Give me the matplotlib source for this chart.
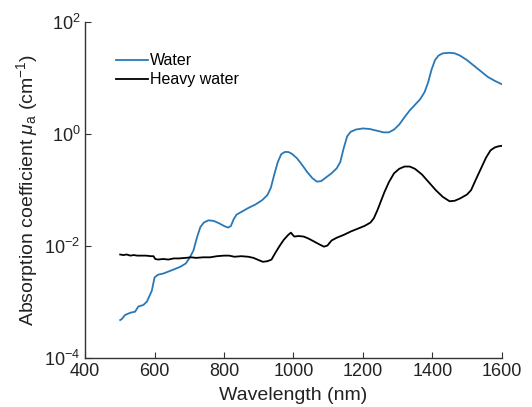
import numpy as np
import matplotlib
matplotlib.use("Agg")
import matplotlib.pyplot as plt
from matplotlib.ticker import NullLocator, FixedLocator

plt.rcParams['font.family'] = ['Liberation Sans', 'DejaVu Sans']
plt.rcParams['mathtext.fontset'] = 'custom'
plt.rcParams['mathtext.rm'] = 'Liberation Sans'
plt.rcParams['mathtext.it'] = 'Liberation Sans:italic'

# absorption spectra, wavelength in nm, log10 of mu_a in cm^-1
water_nm = [501, 506, 515, 530, 544, 553, 568, 578, 592, 600, 610, 625, 650, 674,
            690, 700, 712, 722, 732, 742, 755, 770, 785, 800, 812, 820, 828, 836,
            850, 870, 890, 910, 925, 935, 945, 955, 965, 975, 985, 995, 1010, 1025,
            1040, 1055, 1068, 1080, 1095, 1110, 1125, 1135, 1145, 1155, 1165, 1180,
            1200, 1220, 1240, 1260, 1275, 1290, 1305, 1320, 1335, 1350, 1365, 1378,
            1388, 1398, 1408, 1418, 1430, 1450, 1465, 1480, 1500, 1520, 1540, 1560,
            1580, 1600]
water_log = [-3.32, -3.30, -3.23, -3.19, -3.17, -3.08, -3.05, -2.99, -2.80, -2.56,
             -2.51, -2.49, -2.43, -2.37, -2.31, -2.22, -2.08, -1.85, -1.66, -1.58,
             -1.54, -1.55, -1.59, -1.64, -1.67, -1.64, -1.52, -1.44, -1.39, -1.32,
             -1.26, -1.18, -1.09, -0.96, -0.72, -0.50, -0.36, -0.32, -0.32, -0.35,
             -0.43, -0.55, -0.68, -0.79, -0.85, -0.84, -0.77, -0.70, -0.61, -0.50,
             -0.25, -0.04, 0.04, 0.08, 0.10, 0.09, 0.06, 0.03, 0.03, 0.08, 0.17,
             0.30, 0.42, 0.52, 0.62, 0.75, 0.92, 1.15, 1.32, 1.40, 1.44, 1.45, 1.44,
             1.40, 1.32, 1.22, 1.12, 1.02, 0.95, 0.89]

heavy_nm = [501, 510, 520, 530, 540, 550, 560, 575, 590, 597, 602, 610, 625, 640,
            655, 670, 690, 705, 720, 740, 760, 780, 800, 815, 830, 850, 870, 885,
            900, 912, 925, 937, 948, 960, 972, 985, 993, 998, 1003, 1015, 1030,
            1045, 1060, 1075, 1088, 1098, 1110, 1125, 1145, 1165, 1185, 1205, 1222,
            1232, 1242, 1252, 1262, 1275, 1290, 1305, 1320, 1335, 1350, 1370, 1390,
            1410, 1430, 1450, 1465, 1480, 1500, 1512, 1525, 1540, 1555, 1568, 1580,
            1590, 1600]
heavy_log = [-2.15, -2.16, -2.15, -2.17, -2.16, -2.17, -2.17, -2.17, -2.18, -2.18,
             -2.23, -2.24, -2.23, -2.24, -2.22, -2.22, -2.21, -2.20, -2.21, -2.20,
             -2.20, -2.18, -2.17, -2.17, -2.19, -2.18, -2.19, -2.21, -2.25, -2.28,
             -2.27, -2.24, -2.12, -2.00, -1.89, -1.80, -1.76, -1.80, -1.83, -1.82,
             -1.83, -1.87, -1.92, -1.97, -2.01, -1.99, -1.90, -1.85, -1.80, -1.74,
             -1.69, -1.64, -1.58, -1.50, -1.36, -1.20, -1.04, -0.86, -0.70, -0.62,
             -0.58, -0.58, -0.62, -0.72, -0.86, -1.00, -1.12, -1.20, -1.19, -1.15,
             -1.08, -1.00, -0.82, -0.62, -0.42, -0.29, -0.24, -0.22, -0.21]

fig = plt.figure(figsize=(5.32, 4.07), dpi=100)
ax = fig.add_axes([0.16, 0.12, 0.783, 0.826])

ax.semilogy(water_nm, 10 ** np.array(water_log), color='#2878b8', lw=1.3, label='Water')
ax.semilogy(heavy_nm, 10 ** np.array(heavy_log), color='black', lw=1.3, label='Heavy water')

ax.set_xlim(400, 1600)
ax.set_ylim(1e-4, 1e2)
ax.yaxis.set_major_locator(FixedLocator([1e-4, 1e-2, 1e0, 1e2]))
ax.yaxis.set_minor_locator(NullLocator())

for s in ['top', 'right']:
    ax.spines[s].set_visible(False)
for s in ['left', 'bottom']:
    ax.spines[s].set_color('#333333')
    ax.spines[s].set_linewidth(1.0)
ax.tick_params(direction='in', length=4, colors='#333333', labelsize=13,
               labelcolor='#222222')

ax.set_xlabel('Wavelength (nm)', fontsize=14, color='#222222', labelpad=5)
ax.set_ylabel(r'Absorption coefficient $\mu_{\rm a}$ (cm$^{-1}$)', fontsize=14,
              color='#222222', labelpad=3)

ax.legend(loc='upper left', bbox_to_anchor=(0.04, 0.95), frameon=False,
          handlelength=2.0, handletextpad=0.1, labelspacing=0.25, fontsize=11.5)

fig.savefig('out.png', dpi=100)
